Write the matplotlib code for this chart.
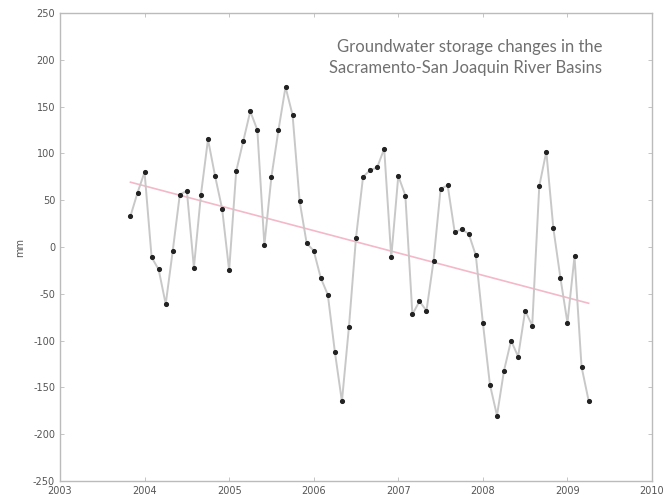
import numpy as np
import matplotlib
matplotlib.use("Agg")
import matplotlib.pyplot as plt

# monthly groundwater storage anomaly, Nov 2003 .. Apr 2009 (mm)
start_month = 10  # months after Jan 2003
storage_mm = [
    33, 58, 80, -11, -24, -61, -4, 56, 60, -22, 56, 115,
    76, 41, -25, 81, 113, 145, 125, 2, 75, 125, 171, 141,
    49, 4, -4, -33, -51, -112, -165, -85, 10, 75, 82, 85,
    105, -11, 76, 55, -72, -58, -68, -15, 62, 66, 16, 19,
    14, -9, -81, -147, -180, -132, -100, -117, -68, -84, 65, 102,
    20, -33, -81, -10, -128, -164,
]
title_lines = ["Groundwater storage changes in the",
               "Sacramento-San Joaquin River Basins"]
x_ticks = list(range(2003, 2011))
y_ticks = list(range(-250, 251, 50))

plt.rcParams["axes.unicode_minus"] = False

years = 2003 + (start_month + np.arange(len(storage_mm))) / 12.0
values = np.array(storage_mm, dtype=float)
slope, intercept = np.polyfit(years, values, 1)
trend = slope * years + intercept

fig = plt.figure(figsize=(6.65, 5.03), dpi=100)
ax = fig.add_axes([0.0902, 0.0437, 0.8903, 0.9304])

ax.plot(years, trend, color="#f4b8c8", lw=1.2, zorder=2)
ax.plot(years, values, color="#c8c8c8", lw=1.4, zorder=3)
ax.plot(years, values, ls="none", marker="o", ms=2.7, color="#222222", zorder=4)

ax.set_xlim(2003, 2010)
ax.set_ylim(-250, 250)
ax.set_xticks(x_ticks)
ax.set_yticks(y_ticks)
ax.tick_params(direction="in", length=3, width=0.6, colors="#bbbbbb",
               labelcolor="#555555", labelsize=7, top=True, right=True)
for spine in ax.spines.values():
    spine.set_color("#bbbbbb")
    spine.set_linewidth(1.0)
ax.set_ylabel("mm", fontsize=7, color="#555555", labelpad=6)

ax.text(0.916, 0.905, "\n".join(title_lines), transform=ax.transAxes,
        ha="right", va="center", family="Lato", fontsize=12,
        color="#707070", linespacing=1.45, multialignment="right")

fig.savefig("out.png", dpi=100)
